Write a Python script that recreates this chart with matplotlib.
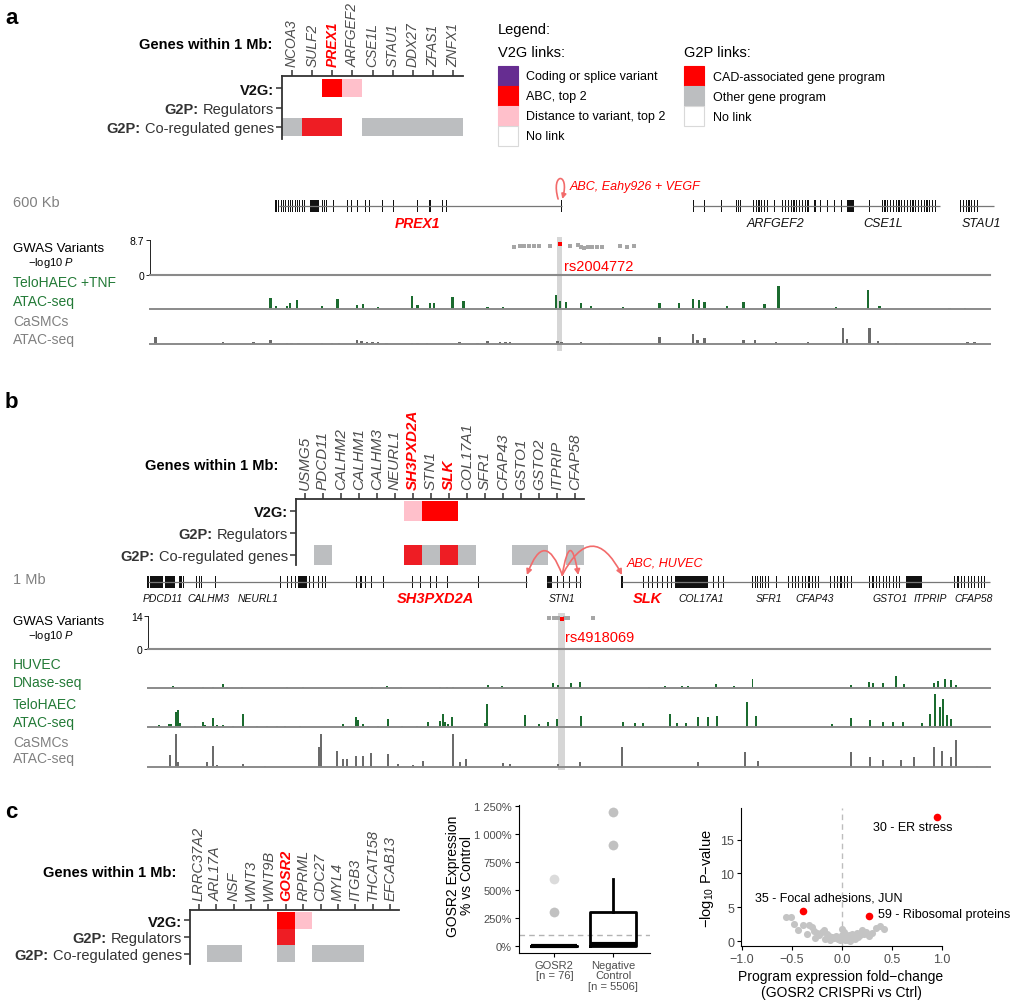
import matplotlib
matplotlib.use("Agg")
import matplotlib.pyplot as plt
from matplotlib.patches import Rectangle, FancyArrowPatch
from matplotlib.path import Path
from matplotlib import font_manager

plt.rcParams['font.family'] = ['Liberation Sans', 'DejaVu Sans']
plt.rcParams['mathtext.fontset'] = 'custom'
plt.rcParams['mathtext.rm'] = 'Liberation Sans'
plt.rcParams['mathtext.it'] = 'Liberation Sans:italic'
plt.rcParams['mathtext.bf'] = 'Liberation Sans:bold'

_names = {f.name for f in font_manager.fontManager.ttflist}
NARROW = 'Liberation Sans Narrow' if 'Liberation Sans Narrow' in _names else 'Liberation Sans'

RED = '#ff0000'
CAD = '#ee1d24'
PINK = '#ffc0cb'
PURPLE = '#662d91'
GREY_CELL = '#bcbec0'
GREEN_TXT = '#237a37'
GREEN = '#1b6b2f'
GREY_PEAK = '#6b6b6b'
GREY_TXT = '#808080'
ARC = '#f26b6b'
cell_colors = {1: PURPLE, 2: RED, 3: PINK, 4: CAD, 5: GREY_CELL}

# ---------------- data ----------------
# link codes: 1 coding/splice, 2 ABC top 2, 3 distance top 2, 4 CAD program, 5 other program
row_bold = ["V2G:", "G2P:", "G2P:"]
row_plain = ["", "Regulators", "Co-regulated genes"]

genes_a = ["NCOA3", "SULF2", "PREX1", "ARFGEF2", "CSE1L", "STAU1", "DDX27", "ZFAS1", "ZNFX1"]
hot_a = ["PREX1"]
v2g_a = [0, 0, 2, 3, 0, 0, 0, 0, 0]
reg_a = [0, 0, 0, 0, 0, 0, 0, 0, 0]
coreg_a = [5, 4, 4, 0, 5, 5, 5, 5, 5]

genes_b = ["USMG5", "PDCD11", "CALHM2", "CALHM1", "CALHM3", "NEURL1", "SH3PXD2A", "STN1",
           "SLK", "COL17A1", "SFR1", "CFAP43", "GSTO1", "GSTO2", "ITPRIP", "CFAP58"]
hot_b = ["SH3PXD2A", "SLK"]
v2g_b = [0, 0, 0, 0, 0, 0, 3, 2, 2, 0, 0, 0, 0, 0, 0, 0]
reg_b = [0] * 16
coreg_b = [0, 5, 0, 0, 0, 0, 4, 5, 4, 5, 0, 0, 5, 5, 0, 5]

genes_c = ["LRRC37A2", "ARL17A", "NSF", "WNT3", "WNT9B", "GOSR2", "RPRML", "CDC27",
           "MYL4", "ITGB3", "THCAT158", "EFCAB13"]
hot_c = ["GOSR2"]
v2g_c = [0, 0, 0, 0, 0, 2, 3, 0, 0, 0, 0, 0]
reg_c = [0, 0, 0, 0, 0, 4, 0, 0, 0, 0, 0, 0]
coreg_c = [0, 5, 5, 0, 0, 5, 0, 5, 5, 5, 0, 0]

v2g_legend = ["Coding or splice variant", "ABC, top 2", "Distance to variant, top 2", "No link"]
v2g_legend_col = [PURPLE, RED, PINK, 'white']
g2p_legend = ["CAD-associated gene program", "Other gene program", "No link"]
g2p_legend_col = [RED, GREY_CELL, 'white']

# panel a locus (kb, 600 kb window)
seg_a = [(92, 294), (388, 564), (579, 603)]
exons_a = [90, 92, 94, 95.5, 97, 99, 100.5, 102, 104, 105.5, 107, 109, 110.5, 123, 124.5, 126,
           131, 141, 144, 148, 154, 157, 166, 174, 191, 200, 209, 212, 294,
           388, 396, 408, 419, 420.5, 422, 431, 433, 435, 437, 439, 441, 446, 452, 454, 456,
           458, 460, 462, 464, 466, 468, 470, 475, 479, 484, 489, 494,
           514, 523, 525, 527, 529, 531, 533, 535, 537, 539, 541, 543, 545, 547, 549, 551,
           553, 555, 557, 559, 561, 579, 581, 583, 585, 587, 589, 591]
blocks_a = [(89, 91), (114, 121), (498, 503)]
names_a = [("PREX1", 191), ("ARFGEF2", 447), ("CSE1L", 524), ("STAU1", 594)]
gwas_a_kb = [260, 264, 267, 271, 274, 278, 286, 300, 306, 308, 310, 313, 316, 319, 323, 336, 341, 346]
gwas_a_p = [7.0, 7.1, 7.1, 7.2, 7.1, 7.2, 7.2, 7.3, 7.5, 7.0, 6.8, 6.9, 7.0, 7.0, 7.0, 7.1, 7.0, 7.2]
lead_a = (293, 7.6)
telo_a_kb = [4, 45, 86, 90, 98, 100, 105, 123, 134, 148, 152, 163, 187, 191, 200, 203, 216, 224,
             241, 252, 290, 293, 297, 308, 315, 338, 364, 378, 388, 392, 396, 412, 424, 439,
             449, 490, 513, 521, 571, 582]
telo_a_sig = [0.5, 0.5, 11, 3, 3, 6, 9, 3, 10, 4, 5, 2, 13, 4, 6, 6, 12, 8,
              2, 2, 14, 8, 7, 6, 3, 2, 6, 6, 10, 9, 7, 3, 7, 5,
              23, 2, 19, 3, 1, 1]
casmc_a_kb = [4, 52, 74, 86, 98, 101, 106, 123, 130, 135, 148, 151, 155, 159, 163, 169, 187, 191,
              198, 221, 234, 241, 250, 254, 257, 291, 294, 308, 329, 364, 388, 391, 396, 424,
              432, 447, 470, 495, 498, 514, 520, 533, 584, 589]
casmc_a_sig = [7, 2, 2, 4, 1.5, 1.5, 1.5, 1, 1, 1, 4, 3, 2, 2, 2, 1, 1, 1,
               1, 2, 1, 3, 2, 2, 2, 3, 2, 2, 1, 7, 10, 4, 6, 4,
               4, 2, 2, 16, 5, 16, 3, 1, 2, 2]

# panel b locus (kb, 1 Mb window)
seg_b = [(0, 450), (474, 514), (563, 1000)]
exons_b = [0, 38, 40, 42, 58, 61, 64, 80, 157, 166, 170, 175, 192, 197, 202, 207, 211, 248, 253,
           258, 265, 280, 314, 324, 336, 343, 356, 392, 450, 486, 494, 501, 509, 514, 563, 588,
           594, 599, 605, 611, 617, 622, 672, 678, 684, 718, 721, 724, 727, 730, 733, 737, 746,
           761, 765, 769, 773, 777, 781, 785, 789, 793, 796, 811, 815, 819, 823, 827, 831, 835,
           857, 861, 865, 869, 873, 877, 881, 885, 889, 892, 958, 962, 966, 970, 974, 978, 982,
           986, 990, 994]
blocks_b = [(2, 18), (20, 32), (178, 189), (474, 480), (626, 665), (900, 919)]
names_b = [("PDCD11", 18), ("CALHM3", 72), ("NEURL1", 131), ("SH3PXD2A", 341), ("STN1", 492),
           ("SLK", 593), ("COL17A1", 657), ("SFR1", 737), ("CFAP43", 792), ("GSTO1", 881),
           ("ITPRIP", 929), ("CFAP58", 980)]
abc_targets_b = [450, 511, 563]
gwas_b_kb = [476, 482, 487, 495, 499, 528]
gwas_b_p = [13.3, 13.0, 13.3, 13.0, 13.2, 13.1]
lead_b = (492, 12.6)
huvec_b_kb = [30, 65, 77, 89, 94, 112, 165, 184, 266, 284, 300, 347, 355, 362, 404, 420, 481,
              487, 502, 513, 595, 614, 634, 641, 675, 696, 718, 835, 856, 861, 873, 888, 898,
              933, 938, 947, 954, 960]
huvec_b_sig = [2, 1.5, 1, 4, 1.5, 1.5, 1, 1, 1, 2, 1, 1.5, 1.5, 1, 3, 2, 5,
               3, 5, 6, 1, 2, 2, 2, 4, 2, 9, 3, 6, 5, 5, 12, 4,
               5, 7, 9, 8, 3]
telo_b_kb = [13, 25, 27, 33, 36, 38, 56, 65, 68, 77, 82, 89, 101, 113, 129, 141, 153, 163, 181,
             232, 247, 249, 255, 261, 273, 285, 302, 319, 333, 347, 350, 353, 356, 361, 400,
             403, 448, 464, 475, 486, 514, 564, 578, 588, 620, 628, 639, 653, 665, 676, 711,
             722, 812, 835, 857, 873, 885, 897, 919, 929, 935, 941, 944, 949, 954]
telo_b_sig = [2.3, 3, 3, 15, 17, 4, 1.5, 5, 2, 9, 2, 2, 1.5, 13, 1, 1, 1, 1, 1,
              3, 10, 7, 3, 1, 1, 8, 1, 1, 5, 6, 13, 5, 3, 10, 4,
              23, 12, 3, 5, 8, 11, 5, 4, 4, 13, 4, 4, 10, 10, 11, 25,
              11, 3, 9, 7, 5, 5, 5, 4, 13, 33, 20, 28, 12, 8]
casmc_b_kb = [26, 33, 36, 70, 77, 82, 113, 139, 203, 205, 224, 232, 236, 247, 255, 265, 285, 297,
              315, 327, 362, 371, 378, 422, 430, 487, 513, 563, 653, 709, 724, 835, 857, 873,
              894, 910, 933, 943, 954, 960, 985]
casmc_b_sig = [12, 33, 5, 5, 21, 2, 3, 1, 20, 33, 16, 8, 8, 11, 11, 14, 13, 3,
               2, 6, 33, 5, 8, 4, 3, 3, 5, 20, 5, 15, 6, 15, 10, 7,
               7, 10, 20, 16, 10, 27, 1]

# panel c boxplot (% of control)
box_groups = ["GOSR2\n[n = 76]", "Negative\nControl\n[n = 5506]"]
box_q1 = [0, 0]
box_med = [0, 15]
box_q3 = [0, 300]
box_lo = [0, 0]
box_hi = [0, 600]
box_fliers = [[300, 300, 600], [900, 900, 1200, 1200]]
box_ticks = [0, 250, 500, 750, 1000, 1250]

# panel c volcano
vol_fc = [-0.56, -0.51, -0.48, -0.44, -0.39, -0.35, -0.33, -0.30, -0.28, -0.27, -0.25, -0.23,
          -0.20, -0.18, -0.17, -0.15, -0.13, -0.12, -0.10, -0.08, -0.06, -0.04, -0.02, 0.0,
          0.0, 0.01, 0.02, 0.03, 0.04, 0.06, 0.07, 0.08, 0.09, 0.10, 0.12, 0.13, 0.15, 0.16,
          0.18, 0.20, 0.22, 0.24, 0.27, 0.30, 0.34, 0.38, 0.42]
vol_p = [3.5, 3.6, 2.5, 1.6, 2.3, 1.0, 2.4, 2.1, 1.5, 0.5, 1.2, 0.9,
         1.4, 1.6, 0.3, 1.0, 0.8, 0.15, 0.6, 0.4, 0.7, 0.3, 0.1, 1.8,
         0.9, 0.4, 1.3, 0.1, 0.6, 0.2, 0.9, 0.05, 0.4, 1.1, 0.7, 0.3, 1.2, 0.6,
         0.9, 1.6, 1.0, 1.3, 0.8, 1.2, 1.9, 2.2, 1.8]
sig_fc = [0.95, -0.39, 0.27]
sig_p = [18.3, 4.5, 3.7]
sig_names = ["30 - ER stress", "35 - Focal adhesions, JUN", "59 - Ribosomal proteins"]
sig_text_xy = [(0.31, 16.9), (-0.87, 6.4), (0.36, 4.0)]

# ---------------- drawing ----------------
W, H = 1011, 1003
fig = plt.figure(figsize=(W / 100, H / 100), dpi=100)
matrix_axes = []


def px_axes(x0, y0, x1, y1):
    ax = fig.add_axes([x0 / W, 1 - y1 / H, (x1 - x0) / W, (y1 - y0) / H])
    ax.patch.set_alpha(0)
    return ax


def ftext(x, y, s, **kw):
    kw.setdefault('va', 'center')
    fig.text(x / W, 1 - y / H, s, **kw)


def gene_matrix(box, genes, hot, rows, ylim, cell_h, gene_fs):
    ax = px_axes(*box)
    for r, codes in enumerate(rows):
        for c, code in enumerate(codes):
            if code:
                ax.bar(c, cell_h, bottom=r - cell_h / 2, width=1.0,
                       color=cell_colors[code], linewidth=0)
    ax.set_xlim(-0.5, len(genes) - 0.5)
    ax.set_ylim(*ylim)
    ax.xaxis.tick_top()
    ax.set_xticks(range(len(genes)))
    ax.set_xticklabels(genes, rotation=90, fontstyle='italic', fontsize=gene_fs, color='#4d4d4d')
    for lab in ax.get_xticklabels():
        if lab.get_text() in hot:
            lab.set_color(RED)
            lab.set_fontweight('bold')
    ax.set_yticks(range(3))
    ax.set_yticklabels([row_bold[0]] + row_plain[1:], fontsize=10.5, color='#333333')
    ax.get_yticklabels()[0].set_fontweight('bold')
    ax.get_yticklabels()[0].set_color('#111111')
    for s in ('right', 'bottom'):
        ax.spines[s].set_visible(False)
    for s in ('left', 'top'):
        ax.spines[s].set_color('#333333')
        ax.spines[s].set_linewidth(1.3)
    ax.tick_params(length=4, width=1.1, color='#333333', pad=2)
    ax.tick_params(axis='x', pad=3)
    matrix_axes.append(ax)
    return ax


def gene_track(box, xmax, ylim, segs, exons, blocks, names, hot, ew, fs, hot_fs):
    ax = px_axes(*box)
    ax.hlines([0] * len(segs), [s for s, e in segs], [e for s, e in segs],
              color='#777777', lw=0.9, clip_on=False)
    ax.bar(exons, 12, bottom=-6, width=ew, color='#111111', linewidth=0, clip_on=False)
    ax.bar([s for s, e in blocks], 12, bottom=-6, width=[e - s for s, e in blocks],
           align='edge', color='#111111', linewidth=0)
    for name, x in names:
        if name in hot:
            ax.text(x, ylim[0] + 11, name, color=RED, fontsize=hot_fs, fontweight='bold',
                    fontstyle='italic', ha='center', va='center')
        else:
            ax.text(x, ylim[0] + 11, name, color='#111111', fontsize=fs,
                    fontstyle='italic', ha='center', va='center')
    ax.set_xlim(0, xmax)
    ax.set_ylim(*ylim)
    ax.axis('off')
    return ax


def gwas_axes(box, xmax, top, kb, p, lead, rsid, rs_xy):
    ax = px_axes(*box)
    ax.scatter(kb, p, marker='s', s=9, color='#a6a6a6', linewidths=0, clip_on=False)
    ax.scatter([lead[0]], [lead[1]], marker='s', s=10, color=RED, linewidths=0, clip_on=False)
    ax.text(rs_xy[0], rs_xy[1], rsid, color=RED, fontsize=10.5, va='center')
    ax.set_xlim(0, xmax)
    ax.set_ylim(0, top)
    ax.set_xticks([])
    ax.set_yticks([0, top])
    ax.set_yticklabels(['0', f'{top:g}'], fontsize=7.5, family=NARROW)
    ax.tick_params(axis='y', length=3, width=0.6, pad=1)
    for s in ('top', 'right'):
        ax.spines[s].set_visible(False)
    ax.spines['left'].set_linewidth(0.6)
    ax.spines['bottom'].set_color('#8a8a8a')
    ax.spines['bottom'].set_linewidth(1.5)
    return ax


def peak_track(box, xmax, kb, sig, color, width):
    ax = px_axes(*box)
    ax.bar(kb, sig, width=width, color=color, linewidth=0)
    ax.set_xlim(0, xmax)
    ax.set_ylim(0, box[3] - box[1])
    ax.set_xticks([])
    ax.set_yticks([])
    for s in ('top', 'right', 'left'):
        ax.spines[s].set_visible(False)
    ax.spines['bottom'].set_color('#8a8a8a')
    ax.spines['bottom'].set_linewidth(1.4)
    return ax


def highlight(box, xmax, span):
    ax = px_axes(*box)
    ax.axvspan(span[0], span[1], color='#d6d6d6', lw=0)
    ax.set_xlim(0, xmax)
    ax.axis('off')


# panel letters and headings
for letter, y in (("a", 19), ("b", 402), ("c", 813)):
    ftext(5, y, letter, fontsize=16, fontweight='bold')
ftext(272, 45, "Genes within 1 Mb:", fontsize=10.5, fontweight='bold', ha='right')
ftext(278, 466, "Genes within 1 Mb:", fontsize=10.5, fontweight='bold', ha='right')
ftext(176, 873, "Genes within 1 Mb:", fontsize=10.5, fontweight='bold', ha='right')

gene_matrix((282, 77, 463, 140), genes_a, hot_a, [v2g_a, reg_a, coreg_a], (2.62, -0.62), 0.97, 10)
gene_matrix((296, 500, 584, 566), genes_b, hot_b, [v2g_b, reg_b, coreg_b], (2.455, -0.545), 0.9, 11)
gene_matrix((190, 911, 399, 965), genes_c, hot_c, [v2g_c, reg_c, coreg_c], (2.59, -0.59), 1.0, 10.5)

# legend
lg = px_axes(490, 20, 900, 150)
lg.set_xlim(490, 900)
lg.set_ylim(150, 20)
lg.axis('off')
lg.text(498, 30, "Legend:", fontsize=10.5, va='center')
lg.text(498, 53, "V2G links:", fontsize=10.5, va='center')
lg.text(684, 53, "G2P links:", fontsize=10.5, va='center')
for i, (lab, col) in enumerate(zip(v2g_legend, v2g_legend_col)):
    lg.add_patch(Rectangle((498, 67 + 20 * i), 20, 20, facecolor=col,
                           edgecolor='#d9d9d9' if col == 'white' else col, lw=0.8))
    lg.text(526, 77 + 20 * i, lab, fontsize=9, va='center')
for i, (lab, col) in enumerate(zip(g2p_legend, g2p_legend_col)):
    lg.add_patch(Rectangle((684, 67 + 20 * i), 20, 20, facecolor=col,
                           edgecolor='#d9d9d9' if col == 'white' else col, lw=0.8))
    lg.text(713, 78 + 20 * i, lab, fontsize=9, va='center')

# ---- panel a browser ----
highlight((150, 238, 990, 352), 600, (290.5, 294.5))
ga = gene_track((150, 170, 990, 235), 600, (-28, 37), seg_a, exons_a, blocks_a, names_a,
                hot_a, 0.9, 9, 10)
loop = Path([(291.5, 7), (286, 34), (300, 34), (294.5, 7)],
            [Path.MOVETO, Path.CURVE4, Path.CURVE4, Path.CURVE4])
ga.add_patch(FancyArrowPatch(path=loop, arrowstyle='-|>', mutation_scale=7, color=ARC,
                             lw=1.2, clip_on=False))
ga.text(300, 20, "ABC, Eahy926 + VEGF", color=RED, fontsize=9, fontstyle='italic', va='center')
gwas_axes((150, 241, 990, 276), 600, 8.7, gwas_a_kb, gwas_a_p, lead_a, "rs2004772", (296, 2.2))
peak_track((150, 282, 990, 310), 600, telo_a_kb, telo_a_sig, GREEN, 1.6)
peak_track((150, 325, 990, 345), 600, casmc_a_kb, casmc_a_sig, GREY_PEAK, 1.6)

ftext(13, 203, "600 Kb", fontsize=10.5, color=GREY_TXT)
ftext(13, 249, "GWAS Variants", fontsize=9.5, family=NARROW)
ftext(28, 263, r"$-$log10 $\mathit{P}$", fontsize=8, family=NARROW)
ftext(13, 283, "TeloHAEC +TNF", fontsize=10, color=GREEN_TXT)
ftext(13, 302, "ATAC-seq", fontsize=10, color=GREEN_TXT)
ftext(13, 322, "CaSMCs", fontsize=10, color=GREY_TXT)
ftext(13, 340, "ATAC-seq", fontsize=10, color=GREY_TXT)

# ---- panel b browser ----
highlight((148, 614, 990, 771), 1000, (487, 495))
gb = gene_track((148, 545, 990, 610), 1000, (-27, 38), seg_b, exons_b, blocks_b, names_b,
                hot_b, 1.3, 7.5, 10.5)
for tgt in abc_targets_b:
    rad = 1.35 if tgt < lead_b[0] else (-3.0 if tgt - lead_b[0] < 30 else -0.95)
    gb.add_patch(FancyArrowPatch((lead_b[0], 7), (tgt, 7), connectionstyle=f"arc3,rad={rad}",
                                 arrowstyle='-|>', mutation_scale=8, color=ARC, lw=1.2,
                                 shrinkA=0, shrinkB=0, clip_on=False))
gb.text(569, 19, "ABC, HUVEC", color=RED, fontsize=9, fontstyle='italic', va='center')
gwas_axes((148, 617, 990, 650), 1000, 14, gwas_b_kb, gwas_b_p, lead_b, "rs4918069", (495, 5.1))
peak_track((148, 655, 990, 689), 1000, huvec_b_kb, huvec_b_sig, GREEN, 2.2)
peak_track((148, 694, 990, 728), 1000, telo_b_kb, telo_b_sig, GREEN, 2.2)
peak_track((148, 733, 990, 768), 1000, casmc_b_kb, casmc_b_sig, GREY_PEAK, 2.2)

ftext(13, 580, "1 Mb", fontsize=10.5, color=GREY_TXT)
ftext(13, 622, "GWAS Variants", fontsize=9.5, family=NARROW)
ftext(28, 636, r"$-$log10 $\mathit{P}$", fontsize=8, family=NARROW)
ftext(13, 665, "HUVEC", fontsize=10, color=GREEN_TXT)
ftext(13, 683, "DNase-seq", fontsize=10, color=GREEN_TXT)
ftext(13, 705, "TeloHAEC", fontsize=10, color=GREEN_TXT)
ftext(13, 723, "ATAC-seq", fontsize=10, color=GREEN_TXT)
ftext(13, 743, "CaSMCs", fontsize=10, color=GREY_TXT)
ftext(13, 759, "ATAC-seq", fontsize=10, color=GREY_TXT)

# ---- panel c boxplot ----
bx = px_axes(519, 806, 650, 954)
stats = []
for i in range(len(box_groups)):
    stats.append(dict(label=box_groups[i], q1=box_q1[i], med=box_med[i], q3=box_q3[i],
                      whislo=box_lo[i], whishi=box_hi[i], fliers=box_fliers[i]))
bx.axhline(100, color='#b3b3b3', lw=1, ls=(0, (4, 3)), zorder=0)
bx.bxp(stats, positions=[1, 2], widths=0.78, showcaps=False,
       boxprops=dict(lw=2, color='black'), whiskerprops=dict(lw=2, color='black'),
       medianprops=dict(lw=3, color='black'),
       flierprops=dict(marker='o', markerfacecolor='#888888', markeredgecolor='none',
                       alpha=0.3, markersize=7))
bx.set_xlim(0.4, 2.62)
bx.set_ylim(-62, 1260)
bx.set_yticks(box_ticks)
bx.set_yticklabels([f"{v:,}%".replace(',', ' ') for v in box_ticks])
bx.tick_params(labelsize=8, labelcolor='#4d4d4d', length=3, width=0.8, pad=2)
for lab in bx.get_xticklabels():
    lab.set_linespacing(1.05)
for s in ('top', 'right'):
    bx.spines[s].set_visible(False)
ftext(460, 876, "GOSR2 Expression\n% vs Control", fontsize=10, rotation=90, ha='center',
      linespacing=1.0)

# ---- panel c volcano ----
vx = px_axes(741, 809, 942, 947)
vx.axvline(0, color='#bdbdbd', lw=1, ls=(0, (4, 3)), zorder=0)
vx.scatter(vol_fc, vol_p, s=26, color='#c4c4c4', linewidths=0)
vx.scatter(sig_fc, sig_p, s=30, color=RED, linewidths=0, zorder=3)
for name, (tx, ty) in zip(sig_names, sig_text_xy):
    vx.text(tx, ty, name, fontsize=9, va='center')
vx.set_xlim(-1.01, 1.0)
vx.set_ylim(-0.74, 19.7)
xt = [-1.0, -0.5, 0.0, 0.5, 1.0]
vx.set_xticks(xt)
vx.set_xticklabels([f"{v:.1f}".replace('-', '\u2212') for v in xt])
vx.set_yticks([0, 5, 10, 15])
vx.tick_params(labelsize=9, labelcolor='#4d4d4d', length=3, width=0.8, pad=2)
for s in ('top', 'right'):
    vx.spines[s].set_visible(False)
ftext(707, 879, r"$-$log$_{10}$ P$-$value", fontsize=10.5, rotation=90, ha='center')
ftext(841, 985, "Program expression fold\u2212change\n(GOSR2 CRISPRi vs Ctrl)", fontsize=10,
      ha='center', linespacing=1.1)

# bold "G2P:" prefix placed just left of each plain row label
fig.canvas.draw()
rend = fig.canvas.get_renderer()
for ax in matrix_axes:
    for i, lab in enumerate(ax.get_yticklabels()):
        if i == 0:
            continue
        bb = lab.get_window_extent(rend)
        y_disp = ax.transData.transform((0, i))[1]
        fig.text((bb.x0 - 4) / W, y_disp / H, row_bold[i], ha='right', va='center_baseline',
                 fontsize=10.5, fontweight='bold', color='#333333')

fig.savefig("out.png", dpi=100)
